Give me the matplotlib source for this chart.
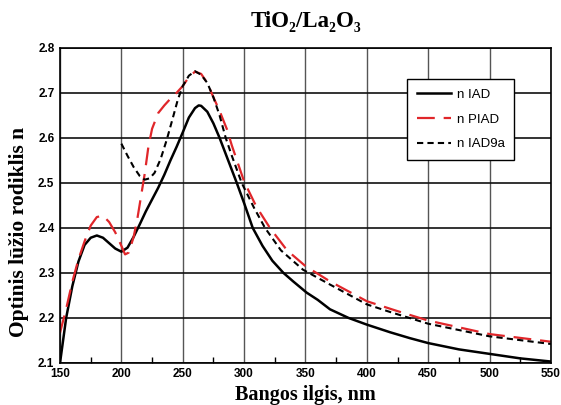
import matplotlib.pyplot as plt
from matplotlib.ticker import MultipleLocator

# n IAD (solid black)
wl_iad = [150, 155, 160, 165, 170, 175, 180, 185, 190, 195, 200, 205, 210, 215,
          220, 225, 230, 235, 240, 245, 250, 255, 260, 263, 265, 270, 275, 280,
          287, 294, 300, 307, 315, 323, 332, 340, 351, 360, 370, 385, 400, 419,
          435, 450, 475, 500, 525, 550]
n_iad = [2.100, 2.200, 2.270, 2.325, 2.362, 2.378, 2.383, 2.378, 2.366, 2.354,
         2.347, 2.356, 2.380, 2.408, 2.437, 2.463, 2.489, 2.518, 2.550, 2.580,
         2.612, 2.645, 2.666, 2.672, 2.671, 2.658, 2.632, 2.600, 2.550, 2.500,
         2.455, 2.400, 2.360, 2.327, 2.300, 2.281, 2.256, 2.240, 2.219, 2.200,
         2.185, 2.168, 2.155, 2.144, 2.130, 2.120, 2.110, 2.103]

# n PIAD (red dashed)
wl_piad = [150, 155, 160, 165, 170, 175, 180, 185, 190, 195, 200, 203, 206, 210,
           213, 216, 219, 222, 225, 230, 235, 240, 245, 250, 255, 260, 265, 270,
           275, 280, 286, 290, 300, 310, 321, 335, 350, 370, 400, 425, 450, 500, 550]
n_piad = [2.167, 2.220, 2.280, 2.330, 2.370, 2.405, 2.424, 2.427, 2.413, 2.390,
          2.360, 2.341, 2.345, 2.380, 2.420, 2.470, 2.520, 2.580, 2.620, 2.655,
          2.672, 2.687, 2.700, 2.715, 2.735, 2.747, 2.742, 2.722, 2.690, 2.660,
          2.619, 2.583, 2.503, 2.447, 2.400, 2.350, 2.315, 2.281, 2.237, 2.215,
          2.194, 2.164, 2.147]

# n IAD9a (black short dashes)
wl_9a = [200, 205, 210, 215, 219, 223, 227, 232, 237, 242, 246, 250, 255, 260,
         265, 270, 275, 280, 285, 290, 298, 308, 317, 330, 348, 370, 400, 419,
         450, 500, 550]
n_9a = [2.587, 2.560, 2.535, 2.515, 2.507, 2.510, 2.522, 2.553, 2.596, 2.645,
        2.685, 2.715, 2.738, 2.748, 2.740, 2.722, 2.690, 2.650, 2.600, 2.560,
        2.500, 2.445, 2.400, 2.350, 2.307, 2.274, 2.230, 2.213, 2.187, 2.159,
        2.142]

y_ticks = [2.1, 2.2, 2.3, 2.4, 2.5, 2.6, 2.7, 2.8]

serif = ['Liberation Serif', 'DejaVu Serif']
sans = ['Liberation Sans', 'DejaVu Sans']

fig = plt.figure(figsize=(5.61, 4.05), dpi=100)
ax = fig.add_axes([0.107, 0.104, 0.875, 0.778])

ax.plot(wl_iad, n_iad, color='black', lw=1.8, label='n IAD')
ax.plot(wl_piad, n_piad, color='#e0262a', lw=1.6, dashes=(8, 4), label='n PIAD')
ax.plot(wl_9a, n_9a, color='black', lw=1.5, dashes=(3, 2), label='n IAD9a')

ax.xaxis.set_major_locator(MultipleLocator(50))
ax.xaxis.set_minor_locator(MultipleLocator(25))
ax.set_yticks(y_ticks)
ax.set_yticklabels(['%.1f' % v for v in y_ticks])
ax.set_xlim(150, 550)
ax.set_ylim(2.1, 2.8)

# grid: horizontal black, vertical dark grey
ax.grid(axis='y', color='#111111', lw=1.2)
ax.grid(axis='x', color='#555555', lw=1.0)
ax.set_axisbelow(True)

ax.tick_params(axis='y', length=0, pad=4)
ax.tick_params(axis='x', which='major', length=0, pad=4)
ax.tick_params(axis='x', which='minor', direction='in', length=4, width=1)
for lab in ax.get_xticklabels() + ax.get_yticklabels():
    lab.set_family(sans)
    lab.set_fontweight('bold')
    lab.set_fontsize(8.5)

for s in ax.spines.values():
    s.set_color('black')
    s.set_linewidth(1.2)

fig.text(0.545, 0.948, 'TiO₂/La₂O₃', family=serif, fontweight='bold',
         fontsize=16.5, ha='center', va='center')
ax.set_xlabel('Bangos ilgis, nm', family=serif, fontweight='bold',
              fontsize=14.5, labelpad=3)
ax.set_ylabel('Optinis lūžio rodiklis n', family=serif, fontweight='bold',
              fontsize=15.5)
ax.yaxis.set_label_coords(-0.064, 0.415)

leg = ax.legend(loc='upper left', bbox_to_anchor=(0.707, 0.902),
                borderaxespad=0, prop={'family': sans, 'size': 9.5},
                handlelength=2.6, handletextpad=0.4, labelspacing=0.95,
                borderpad=0.75, fancybox=False, framealpha=1, edgecolor='black')
leg.get_frame().set_linewidth(1.0)

fig.savefig('out.png', dpi=100)
